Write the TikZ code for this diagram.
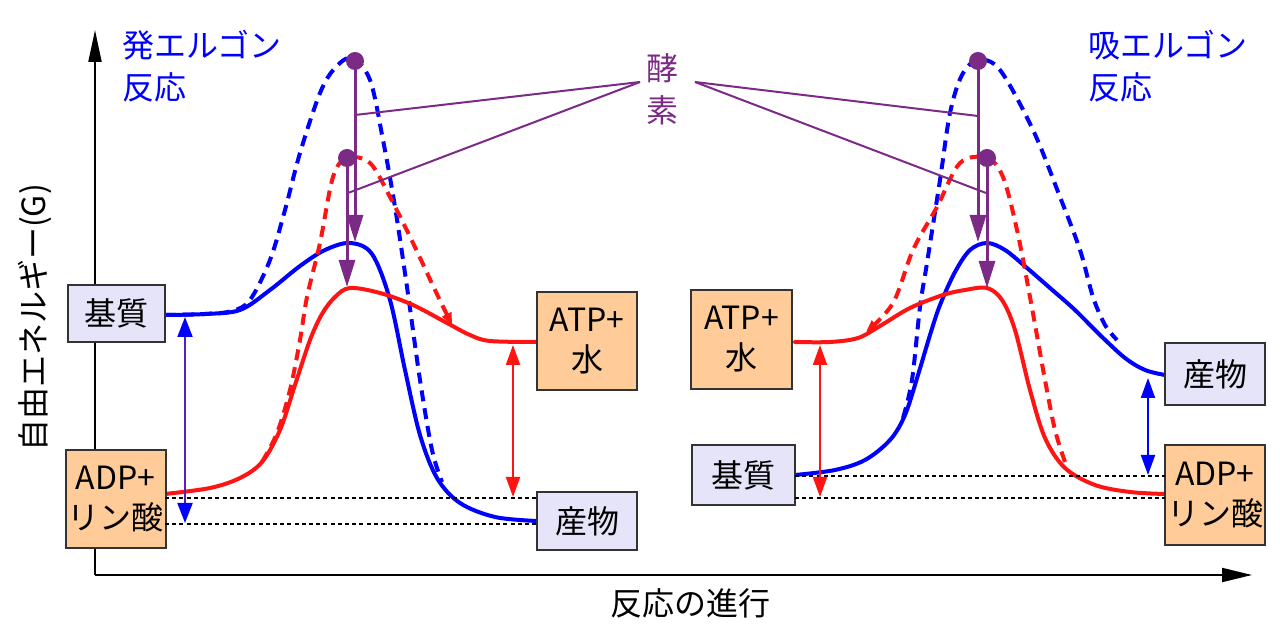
\documentclass[tikz,border=0pt]{standalone}
\usepackage{fontspec}
\setmainfont{Noto Sans CJK JP}
\usetikzlibrary{arrows.meta}
\definecolor{cblue}{RGB}{0,0,255}
\definecolor{cred}{RGB}{255,20,20}
\definecolor{cpurp}{RGB}{123,42,133}
\definecolor{lav}{RGB}{230,228,248}
\definecolor{peach}{RGB}{255,204,153}
\definecolor{dbl}{RGB}{90,30,180}
\begin{document}
\begin{tikzpicture}[x=0.5pt,y=-0.5pt,
  box/.style={draw=black!80, line width=1pt, inner sep=0pt, align=center, font=\fontsize{16}{20}\selectfont},
  lavbox/.style={box, fill=lav},
  pchbox/.style={box, fill=peach},
  curve/.style={line width=2pt, line cap=round},
  dcurve/.style={line width=2pt, dash pattern=on 5.5pt off 3.5pt},
  enzarrow/.style={cpurp, line width=1.5pt, -{Triangle[length=13.5pt,width=8pt]}},
  enzline/.style={cpurp, line width=1pt},
  enzdot/.style={circle, fill=cpurp, minimum size=9pt, inner sep=0pt},
  dotline/.style={black, line width=1pt, dash pattern=on 2pt off 1.6pt},
  dblarrow/.style={line width=1pt, {Triangle[length=10pt,width=7pt]}-{Triangle[length=10pt,width=7pt]}},
  lbl/.style={font=\fontsize{16}{21}\selectfont, inner sep=0pt}
]
\useasboundingbox (0,0) rectangle (1280,640);

% axes
\coordinate (O) at (95,575);
\coordinate (ytip) at (95,30);
\coordinate (xtip) at (1252,575);
\draw[line width=1pt, -{Triangle[length=16pt,width=6.5pt]}] (O) -- (ytip);
\draw[line width=1pt, -{Triangle[length=15pt,width=7pt]}] (O) -- (xtip);
\node[lbl, rotate=90] (ylab) at (35,318) {自由エネルギー(G)};
\node[lbl] (xlab) at (690,603) {反応の進行};

% titles
\node[lbl, text=cblue, anchor=west, align=left] (tL) at (122,66) {発エルゴン\\反応};
\node[lbl, text=cblue, anchor=west, align=left] (tR) at (1088,66) {吸エルゴン\\反応};
\node[lbl, text=cpurp, align=center] (enz) at (662,89) {酵\\素};
\coordinate (enzL) at (640,82);
\coordinate (enzR) at (695,82);

% ---------- left panel curves ----------
\draw[dcurve,cblue] plot[smooth,tension=0.55] coordinates {(165,315) (205,314) (232,311) (250,300) (270,260) (285,210) (300,153) (320,93) (335,68) (352,58) (370,80) (383,140) (395,207) (407,287) (420,380) (432,450) (442,482)};
\draw[curve,cblue] plot[smooth,tension=0.55] coordinates {(165,315) (205,314) (240,310) (270,290) (300,266) (325,250) (350,243) (372,254) (390,300) (405,370) (420,435) (437,478) (460,503) (495,517) (537,521)};
\draw[dcurve,cred,-{Triangle[length=6pt,width=5pt]}] plot[smooth,tension=0.55] coordinates {(262,462) (277,433) (290,390) (300,340) (307,297) (320,243) (333,177) (347,158) (370,163) (390,197) (413,243) (435,290) (452,325)};
\draw[curve,cred] plot[smooth,tension=0.55] coordinates {(165,494) (210,488) (240,478) (262,462) (280,430) (295,385) (310,340) (322,314) (335,297) (350,288) (380,293) (413,305) (447,323) (470,335) (490,341) (537,342)};

% ---------- right panel curves ----------
\draw[dcurve,cblue] plot[smooth,tension=0.55] coordinates {(903,418) (912,380) (920,307) (927,263) (940,180) (950,113) (962,75) (978,60) (1000,70) (1033,130) (1060,197) (1080,250) (1093,297) (1105,325) (1117,340)};
\draw[curve,cblue] plot[smooth,tension=0.55] coordinates {(795,475) (835,470) (865,460) (890,440) (905,415) (918,375) (930,335) (940,305) (955,272) (970,250) (987,243) (1005,250) (1027,268) (1050,288) (1075,310) (1100,335) (1125,358) (1145,370) (1165,375)};
\draw[dcurve,cred,-{Triangle[length=6pt,width=5pt]}] plot[smooth,tension=0.55] coordinates {(1065,462) (1055,430) (1045,380) (1030,297) (1017,230) (1003,177) (987,158) (960,163) (937,207) (913,250) (893,303) (866,332)};
\draw[curve,cred] plot[smooth,tension=0.55] coordinates {(795,342) (830,342) (858,338) (880,326) (910,308) (943,295) (965,290) (987,288) (1002,300) (1015,330) (1030,390) (1045,438) (1065,468) (1095,485) (1130,492) (1165,494)};

% ---------- enzyme arrows ----------
\node[enzdot] (d1) at (355,61) {};
\node[enzdot] (d2) at (347,158) {};
\node[enzdot] (d3) at (978,61) {};
\node[enzdot] (d4) at (987,158) {};
\coordinate (p1) at (355,242);
\coordinate (p2) at (347,287);
\coordinate (p3) at (978,242);
\coordinate (p4) at (987,288);
\draw[enzarrow] (d1.center) -- (p1);
\draw[enzarrow] (d2.center) -- (p2);
\draw[enzarrow] (d3.center) -- (p3);
\draw[enzarrow] (d4.center) -- (p4);
\coordinate (q1) at (355,115);
\coordinate (q2) at (348,193);
\coordinate (q3) at (978,116);
\coordinate (q4) at (986,193);
\draw[enzline] (enzL) -- (q1);
\draw[enzline] (enzL) -- (q2);
\draw[enzline] (enzR) -- (q3);
\draw[enzline] (enzR) -- (q4);

% ---------- boxes ----------
\node[lavbox, minimum width=48.5pt, minimum height=28.5pt] (Lsub) at (116.5,313.5) {基質};
\node[pchbox, minimum width=50pt, minimum height=49pt] (Ladp) at (115.5,499) {ADP+\\リン酸};
\node[pchbox, minimum width=50pt, minimum height=49pt] (Latp) at (587,341) {ATP+\\水};
\node[lavbox, minimum width=50pt, minimum height=29pt] (Lprod) at (587,521) {産物};
\node[pchbox, minimum width=50.5pt, minimum height=49.5pt] (Ratp) at (741.5,339.5) {ATP+\\水};
\node[lavbox, minimum width=51.5pt, minimum height=30pt] (Rsub) at (743.5,475) {基質};
\node[lavbox, minimum width=50pt, minimum height=31pt] (Rprod) at (1215,374) {産物};
\node[pchbox, minimum width=50pt, minimum height=50pt] (Radp) at (1215,495) {ADP+\\リン酸};

% ---------- dotted levels ----------
\coordinate (a1) at (165,498); \coordinate (a2) at (537,498);
\coordinate (b1) at (165,524); \coordinate (b2) at (537,524);
\coordinate (c1) at (795,476); \coordinate (c2) at (1165,476);
\coordinate (e1) at (795,498); \coordinate (e2) at (1165,498);
\draw[dotline] (a1) -- (a2);
\draw[dotline] (b1) -- (b2);
\draw[dotline] (c1) -- (c2);
\draw[dotline] (e1) -- (e2);

% ---------- double arrows ----------
\coordinate (f1) at (185,317); \coordinate (f2) at (185,523);
\coordinate (g1) at (513,345); \coordinate (g2) at (513,497);
\coordinate (h1) at (820,345); \coordinate (h2) at (820,497);
\coordinate (k1) at (1148,378); \coordinate (k2) at (1148,475);
\draw[line width=1pt, dbl, {Triangle[length=10pt,width=7.5pt,color=cblue]}-{Triangle[length=10pt,width=7.5pt,color=cblue]}] (f1) -- (f2);
\draw[dblarrow, cred] (g1) -- (g2);
\draw[dblarrow, cred] (h1) -- (h2);
\draw[dblarrow, cblue] (k1) -- (k2);
\end{tikzpicture}
\end{document}
